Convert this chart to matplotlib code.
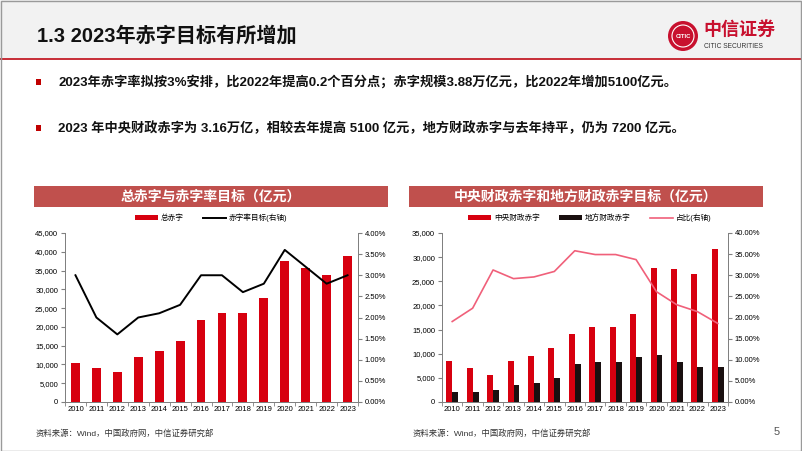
import numpy as np
import matplotlib.pyplot as plt
from matplotlib.patches import Rectangle, Ellipse
from matplotlib.ticker import FuncFormatter, MultipleLocator

plt.rcParams['font.family'] = ['Liberation Sans', 'Noto Sans CJK SC', 'DejaVu Sans']

years = ['2010', '2011', '2012', '2013', '2014', '2015', '2016',
         '2017', '2018', '2019', '2020', '2021', '2022', '2023']
total_deficit = [10500, 9000, 8000, 12000, 13500, 16200, 21800,
                 23800, 23800, 27600, 37600, 35700, 33700, 38800]
deficit_rate = [3.0, 2.0, 1.6, 2.0, 2.1, 2.3, 3.0,
                3.0, 2.6, 2.8, 3.6, 3.2, 2.8, 3.0]
central_deficit = [8500, 7000, 5500, 8500, 9500, 11200, 14000,
                   15500, 15500, 18300, 27800, 27500, 26500, 31600]
local_deficit = [2000, 2000, 2500, 3500, 4000, 5000, 7800,
                 8300, 8300, 9300, 9800, 8200, 7200, 7200]
local_share = [19.05, 22.2, 31.25, 29.2, 29.6, 30.9, 35.8,
               34.9, 34.9, 33.7, 26.1, 23.0, 21.4, 18.6]

RED = '#d7000f'
BANNER = '#c0504d'

fig = plt.figure(figsize=(8.02, 4.51), dpi=100)

# header band
fig.patches.append(Rectangle((0, 1 - 58 / 451), 1, 58 / 451, transform=fig.transFigure,
                             facecolor='#f2f2f2', edgecolor='none', zorder=0))
fig.patches.append(Rectangle((0, 1 - 60 / 451), 1, 2 / 451, transform=fig.transFigure,
                             facecolor='#c8323c', edgecolor='none', zorder=1))
fig.patches.append(Rectangle((0.001, 0.001), 0.998, 0.997, transform=fig.transFigure,
                             facecolor='none', edgecolor='#9a9a9a', lw=1, zorder=5))
fig.text(37 / 802, 1 - 36 / 451, '1.3 2023年赤字目标有所增加', fontsize=14.5,
         fontweight='bold', va='center', ha='left', color='#111111')

# logo
fig.patches.append(Ellipse((683 / 802, 1 - 36 / 451), 30 / 802, 30 / 451,
                           transform=fig.transFigure, facecolor='#c8102e',
                           edgecolor='none'))
fig.patches.append(Ellipse((683 / 802, 1 - 36 / 451), 22 / 802, 22 / 451,
                           transform=fig.transFigure, facecolor='none',
                           edgecolor='white', lw=0.8))
fig.text(683 / 802, 1 - 36 / 451, 'CITIC', fontsize=4.2, color='white', ha='center',
         va='center', fontweight='bold')
fig.text(703 / 802, 1 - 30 / 451, '中信证券', fontsize=13, color='#c8102e', ha='left',
         va='center', fontweight='bold')
fig.text(704 / 802, 1 - 47 / 451, 'CITIC SECURITIES', fontsize=4.8, color='#333333',
         ha='left', va='center')

# bullets
bullets = ['2023年赤字率拟按3%安排，比2022年提高0.2个百分点；赤字规模3.88万亿元，比2022年增加5100亿元。',
           '2023 年中央财政赤字为 3.16万亿，相较去年提高 5100 亿元，地方财政赤字与去年持平，仍为 7200 亿元。']
for y, t in zip([82, 128], bullets):
    fig.patches.append(Rectangle((36 / 802, 1 - (y + 3) / 451), 5 / 802, 6 / 451,
                                 transform=fig.transFigure, facecolor='#c00000',
                                 edgecolor='none'))
    fig.text(58 / 802, 1 - y / 451, t, fontsize=9.5, fontweight='bold', va='center',
             ha='left', color='#111111')

# chart banners
for x0, x1, t in [(34, 388, '总赤字与赤字率目标（亿元）'),
                  (409, 763, '中央财政赤字和地方财政赤字目标（亿元）')]:
    fig.patches.append(Rectangle((x0 / 802, 1 - 207 / 451), (x1 - x0) / 802, 21 / 451,
                                 transform=fig.transFigure, facecolor=BANNER,
                                 edgecolor='none'))
    fig.text((x0 + x1) / 2 / 802, 1 - 196.5 / 451, t, fontsize=10, fontweight='bold',
             color='white', ha='center', va='center')

x = np.arange(len(years))


def style_axes(ax, ax2):
    for a in (ax, ax2):
        a.spines['top'].set_visible(False)
        for s in ('left', 'right', 'bottom'):
            a.spines[s].set_color('#808080')
            a.spines[s].set_linewidth(0.7)
    ax.set_xlim(-0.5, len(years) - 0.5)
    ax.set_xticks(x)
    ax.set_xticklabels(years)
    ax.set_xticks(np.arange(-0.5, len(years), 1), minor=True)
    ax.tick_params(axis='x', which='major', length=0, labelsize=5.5, pad=3)
    ax.tick_params(axis='x', which='minor', length=3, color='#808080', direction='out')
    ax.tick_params(axis='y', labelsize=5.5, length=3, color='#808080', pad=2)
    ax2.tick_params(axis='y', labelsize=5.5, length=3, color='#808080', pad=2)
    ax.yaxis.set_major_formatter(FuncFormatter(lambda v, p: f'{v:,.0f}'))
    ax.set_facecolor('none')


# left chart
axL = fig.add_axes([65 / 802, 1 - 402 / 451, 293 / 802, 169 / 451])
axL2 = axL.twinx()
axL.bar(x, total_deficit, width=0.42, color=RED, zorder=2, label='总赤字')
axL2.plot(x, deficit_rate, color='black', lw=1.4, label='赤字率目标(右轴)')
axL.set_ylim(0, 45000)
axL.yaxis.set_major_locator(MultipleLocator(5000))
axL2.set_ylim(0, 4.0)
axL2.yaxis.set_major_locator(MultipleLocator(0.5))
axL2.yaxis.set_major_formatter(FuncFormatter(lambda v, p: f'{v:.2f}%'))
style_axes(axL, axL2)
h1, l1 = axL.get_legend_handles_labels()
h2, l2 = axL2.get_legend_handles_labels()
fig.legend(h1 + h2, l1 + l2, loc='center', bbox_to_anchor=(211 / 802, 1 - 218 / 451),
           ncol=2, frameon=False, fontsize=5.5, handlelength=3, handleheight=0.5,
           columnspacing=2.5, handletextpad=0.4)

# right chart
axR = fig.add_axes([442 / 802, 1 - 402 / 451, 286 / 802, 169 / 451])
axR2 = axR.twinx()
bw = 0.29
axR.bar(x - bw / 2, central_deficit, width=bw, color=RED, zorder=2, label='中央财政赤字')
axR.bar(x + bw / 2, local_deficit, width=bw, color='#1a1010', zorder=2, label='地方财政赤字')
axR2.plot(x, local_share, color='#f0607a', lw=1.2, label='占比(右轴)')
axR.set_ylim(0, 35000)
axR.yaxis.set_major_locator(MultipleLocator(5000))
axR2.set_ylim(0, 40)
axR2.yaxis.set_major_locator(MultipleLocator(5))
axR2.yaxis.set_major_formatter(FuncFormatter(lambda v, p: f'{v:.2f}%'))
style_axes(axR, axR2)
h1, l1 = axR.get_legend_handles_labels()
h2, l2 = axR2.get_legend_handles_labels()
fig.legend(h1 + h2, l1 + l2, loc='center', bbox_to_anchor=(590 / 802, 1 - 218 / 451),
           ncol=3, frameon=False, fontsize=5.5, handlelength=3, handleheight=0.5,
           columnspacing=2.5, handletextpad=0.4)

# footers
for xs in (36, 413):
    fig.text(xs / 802, 1 - 434 / 451, '资料来源：Wind，中国政府网，中信证券研究部',
             fontsize=6, color='#333333', ha='left', va='center')
fig.text(777 / 802, 1 - 432 / 451, '5', fontsize=8, color='#555555', ha='center',
         va='center')

fig.savefig('out.png', dpi=100)
